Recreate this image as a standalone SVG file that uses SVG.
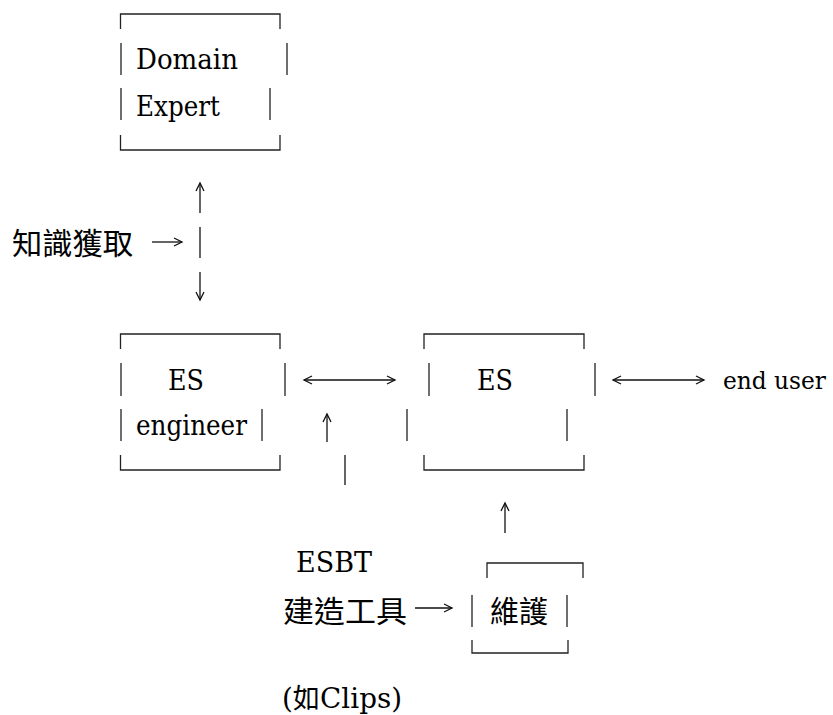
<svg xmlns="http://www.w3.org/2000/svg" width="833" height="715" viewBox="0 0 833 715">
<style>
.b{stroke:#222;stroke-width:1.3;fill:none}
.a{stroke:#111;stroke-width:1.3;fill:none}
.t{font-family:'DejaVu Serif','Liberation Serif',serif;font-size:27.5px;fill:#000}
.c{font-family:'Noto Sans CJK TC','Noto Sans CJK SC',sans-serif;font-size:30px;fill:#000}
</style>
<defs>
<marker id="h" markerUnits="userSpaceOnUse" markerWidth="12" markerHeight="12" refX="9" refY="5" orient="auto-start-reverse">
<path d="M1,1 L9,5 L1,9" fill="none" stroke="#111" stroke-width="1.3"/>
</marker>
</defs>
<rect width="833" height="715" fill="#fff"/>
<g id="domain-expert">
<path class="b" d="M120.5,29 V14 H280 V29 M121,43 V75 M287,43 V75 M121,88 V120 M270,88 V120 M120.5,135 V150 H280 V135"/>
<text class="t" x="136" y="69" textLength="102" lengthAdjust="spacingAndGlyphs">Domain</text>
<text class="t" x="136" y="116" textLength="84" lengthAdjust="spacingAndGlyphs">Expert</text>
</g>
<g id="es-engineer">
<path class="b" d="M120.5,349 V334 H280 V349 M121,363 V396 M285,363 V396 M121,409 V441 M262,409 V441 M120.5,455 V470 H280 V455"/>
<text class="t" x="168" y="390" textLength="36" lengthAdjust="spacingAndGlyphs">ES</text>
<text class="t" x="136" y="435" textLength="111" lengthAdjust="spacingAndGlyphs">engineer</text>
</g>
<g id="es">
<path class="b" d="M424,349 V334 H584 V349 M429,363 V396 M595,363 V396 M407,409 V441 M567,409 V441 M424,455 V470 H584 V455"/>
<text class="t" x="477" y="390" textLength="36" lengthAdjust="spacingAndGlyphs">ES</text>
</g>
<g id="end-user">
<text class="t" x="723" y="389" style="font-size:24px" textLength="103" lengthAdjust="spacingAndGlyphs">end user</text>
</g>
<g id="maintain">
<path class="b" d="M487,578 V563 H583 V578 M472,595 V627 M567,595 V627 M472,640 V653 H568 V640"/>
<text class="c" x="490" y="622" textLength="58" lengthAdjust="spacingAndGlyphs">維護</text>
</g>
<g id="knowledge-label">
<text class="c" x="12" y="254" textLength="121" lengthAdjust="spacingAndGlyphs">知識獲取</text>
</g>
<g id="esbt-label">
<text class="t" x="296" y="572" textLength="76" lengthAdjust="spacingAndGlyphs">ESBT</text>
<text class="c" x="283" y="622" textLength="124" lengthAdjust="spacingAndGlyphs">建造工具</text>
<text class="t" x="282" y="708" textLength="120" lengthAdjust="spacingAndGlyphs">(<tspan class="c" style="font-size:27px">如</tspan>Clips)</text>
</g>
<g id="connectors">
<line class="a" x1="200" y1="213" x2="200" y2="183" marker-end="url(#h)"/>
<line class="a" x1="200" y1="227" x2="200" y2="258"/>
<line class="a" x1="200" y1="272" x2="200" y2="300" marker-end="url(#h)"/>
<line class="a" x1="152" y1="242" x2="182" y2="242" marker-end="url(#h)"/>
<line class="a" x1="304" y1="380" x2="395" y2="380" marker-start="url(#h)" marker-end="url(#h)"/>
<line class="a" x1="613" y1="380" x2="704" y2="380" marker-start="url(#h)" marker-end="url(#h)"/>
<line class="a" x1="327" y1="442" x2="327" y2="414" marker-end="url(#h)"/>
<line class="a" x1="345" y1="455" x2="345" y2="485"/>
<line class="a" x1="505" y1="533" x2="505" y2="503" marker-end="url(#h)"/>
<line class="a" x1="415" y1="608" x2="452" y2="608" marker-end="url(#h)"/>
</g>
</svg>
